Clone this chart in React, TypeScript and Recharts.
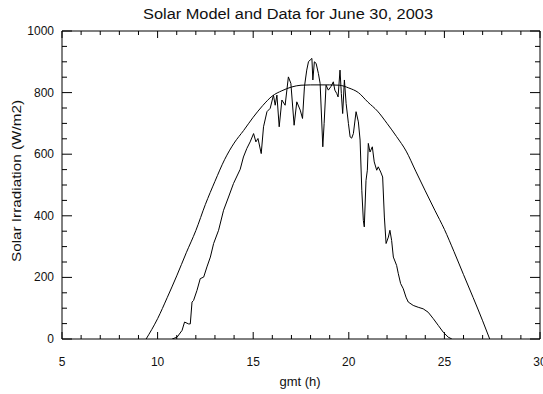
import { LineChart, Line, XAxis, YAxis } from "recharts"

// model curve (W/m2) read every half hour
const modelHours = [9.4, 10, 10.5, 11, 11.5, 12, 12.5, 13, 13.5, 14, 14.5, 15, 15.5, 16, 16.5, 17, 17.5, 18, 18.5, 19, 19.5, 20, 20.5, 21, 21.5, 22, 22.5, 23, 23.5, 24, 24.5, 25, 25.5, 26, 26.5, 27, 27.37]
const modelValues = [0, 66, 134, 205, 280, 352, 437, 512, 582, 636, 677, 720, 758, 789, 806, 818, 824, 825, 825, 825, 824, 815, 800, 769, 740, 700, 657, 610, 545, 481, 418, 356, 284, 209, 135, 59, 0]

// measured irradiation
const dataHours = [
  10.76, 11.02, 11.28, 11.41, 11.62, 11.71, 11.8, 11.88, 12.06, 12.23, 12.41, 12.58, 12.76, 12.93, 13.19, 13.45,
  13.71, 13.97, 14.32, 14.49, 14.67, 14.84, 15.02, 15.14, 15.25, 15.42, 15.54, 15.72, 15.89, 16.06, 16.15, 16.24,
  16.36, 16.5, 16.67, 16.84, 16.97, 17.14, 17.28, 17.46, 17.58, 17.68, 17.8, 17.89, 17.98, 18.07, 18.12, 18.2,
  18.29, 18.41, 18.5, 18.64, 18.71, 18.81, 18.93, 19.06, 19.19, 19.27, 19.37, 19.44, 19.54, 19.61, 19.68, 19.77,
  19.86, 19.98, 20.07, 20.15, 20.24, 20.38, 20.5, 20.59, 20.68, 20.76, 20.81, 20.9, 20.97, 21.02, 21.11, 21.23,
  21.33, 21.46, 21.54, 21.67, 21.77, 21.86, 21.95, 22.07, 22.15, 22.24, 22.33, 22.5, 22.59, 22.71, 22.85, 22.99,
  23.11, 23.37, 23.63, 23.89, 24.15, 24.42, 24.68, 24.94, 25.2, 25.39,
]
const dataValues = [
  0, 6, 28, 55, 49, 49, 120, 125, 158, 196, 201, 234, 266, 310, 353, 418,
  461, 505, 551, 591, 619, 640, 667, 640, 651, 602, 689, 738, 749, 792, 759, 792,
  689, 776, 759, 851, 830, 694, 770, 743, 716, 819, 873, 900, 906, 911, 841, 900,
  895, 862, 830, 624, 700, 824, 808, 819, 835, 808, 797, 786, 873, 797, 732, 841,
  765, 700, 656, 652, 667, 738, 705, 646, 483, 385, 364, 515, 548, 635, 607, 624,
  575, 548, 559, 542, 526, 396, 310, 331, 353, 320, 266, 239, 212, 180, 163, 136,
  120, 109, 103, 98, 87, 66, 44, 22, 6, 0,
]

const xTicks = Array.from({ length: 26 }, (_, i) => 5 + i)
const yTicks = Array.from({ length: 21 }, (_, i) => i * 50)

const model = modelHours.map((h, i) => ({ h, v: modelValues[i] }))
const measured = dataHours.map((h, i) => ({ h, v: dataValues[i] }))

const font = "'Liberation Sans', Arial, sans-serif"
const ink = "#000"

const BottomTick = ({ x, y, payload }: any) => {
  const major = payload.value % 5 === 0
  return (
    <g>
      <line x1={x} x2={x} y1={y} y2={y - (major ? 7 : 4)} stroke={ink} />
      {major && (
        <text x={x} y={y + 27} textAnchor="middle" fontSize={12} fontFamily={font} fill="#111">
          {payload.value}
        </text>
      )}
    </g>
  )
}

const TopTick = ({ x, y, payload }: any) => {
  const major = payload.value % 5 === 0
  return <line x1={x} x2={x} y1={y} y2={y + (major ? 7 : 4)} stroke={ink} />
}

const LeftTick = ({ x, y, payload }: any) => {
  const major = payload.value % 200 === 0
  return (
    <g>
      <line x1={x} x2={x + (major ? 10 : 5)} y1={y} y2={y} stroke={ink} />
      {major && (
        <text x={x - 8} y={y + 4} textAnchor="end" fontSize={12} fontFamily={font} fill="#111">
          {payload.value}
        </text>
      )}
    </g>
  )
}

const RightTick = ({ x, y, payload }: any) => {
  const major = payload.value % 200 === 0
  return <line x1={x} x2={x - (major ? 10 : 5)} y1={y} y2={y} stroke={ink} />
}

export default function App() {
  return (
    <div style={{ position: "absolute", left: 0, top: 0, background: "#fff" }}>
      <LineChart width={543} height={394} margin={{ top: 30, right: 2, bottom: 0, left: 0 }}>
        <XAxis
          xAxisId="b"
          type="number"
          dataKey="h"
          domain={[5, 30]}
          allowDataOverflow
          ticks={xTicks}
          interval={0}
          height={55}
          tickSize={0}
          tickMargin={0}
          tickLine={false}
          axisLine={{ stroke: ink }}
          tick={BottomTick}
        />
        <XAxis
          xAxisId="t"
          orientation="top"
          type="number"
          dataKey="h"
          domain={[5, 30]}
          allowDataOverflow
          ticks={xTicks}
          interval={0}
          height={1}
          tickSize={0}
          tickMargin={0}
          tickLine={false}
          axisLine={{ stroke: ink }}
          tick={TopTick}
        />
        <YAxis
          yAxisId="l"
          type="number"
          domain={[0, 1000]}
          allowDataOverflow
          ticks={yTicks}
          interval={0}
          width={62}
          tickSize={0}
          tickMargin={0}
          tickLine={false}
          axisLine={{ stroke: ink }}
          tick={LeftTick}
        />
        <YAxis
          yAxisId="r"
          orientation="right"
          type="number"
          domain={[0, 1000]}
          allowDataOverflow
          ticks={yTicks}
          interval={0}
          width={1}
          tickSize={0}
          tickMargin={0}
          tickLine={false}
          axisLine={{ stroke: ink }}
          tick={RightTick}
        />
        <Line
          xAxisId="b"
          yAxisId="l"
          data={model}
          dataKey="v"
          type="monotone"
          stroke={ink}
          strokeWidth={1}
          dot={false}
          isAnimationActive={false}
        />
        <Line
          xAxisId="b"
          yAxisId="l"
          data={measured}
          dataKey="v"
          type="linear"
          stroke={ink}
          strokeWidth={1}
          dot={false}
          isAnimationActive={false}
        />
        <text x={288} y={19} textAnchor="middle" fontSize={14} fontFamily={font} fill="#111" textLength={290} lengthAdjust="spacingAndGlyphs">
          Solar Model and Data for June 30, 2003
        </text>
        <text x={300} y={386} textAnchor="middle" fontSize={13} fontFamily={font} fill="#111">
          gmt (h)
        </text>
        <text
          x={0}
          y={0}
          transform="translate(21, 181) rotate(-90)"
          textAnchor="middle"
          fontSize={12}
          fontFamily={font}
          fill="#111"
          textLength={162}
          lengthAdjust="spacingAndGlyphs"
        >
          Solar Irradiation (W/m2)
        </text>
      </LineChart>
    </div>
  )
}
